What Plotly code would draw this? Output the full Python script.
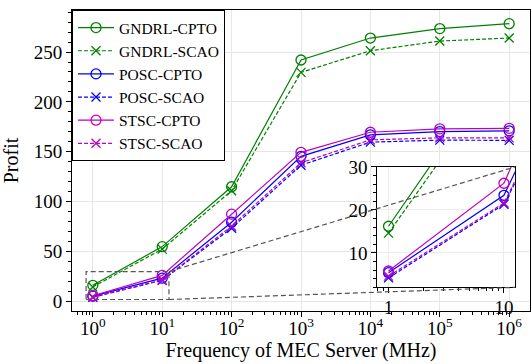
import math
import plotly.graph_objects as go

# ---------------- data ----------------
freq = [1, 10, 100, 1e3, 1e4, 1e5, 1e6]
freq_ticktext = ["10<sup>0</sup>", "10<sup>1</sup>", "10<sup>2</sup>", "10<sup>3</sup>",
                 "10<sup>4</sup>", "10<sup>5</sup>", "10<sup>6</sup>"]

gndrl_cpto = [16.2, 55.0, 115.0, 242.0, 264.0, 273.5, 278.4]
gndrl_scao = [14.6, 52.5, 111.0, 229.6, 251.3, 261.0, 264.0]
posc_cpto = [5.4, 23.4, 79.5, 145.5, 167.0, 170.3, 171.0]
posc_scao = [4.2, 21.3, 73.5, 136.6, 159.7, 161.7, 161.5]
stsc_cpto = [5.8, 26.2, 87.5, 149.5, 169.6, 173.0, 173.5]
stsc_scao = [4.6, 21.6, 75.5, 139.0, 162.0, 164.0, 164.0]

series_names = ["GNDRL-CPTO", "GNDRL-SCAO", "POSC-CPTO", "POSC-SCAO", "STSC-CPTO", "STSC-SCAO"]
series_values = [gndrl_cpto, gndrl_scao, posc_cpto, posc_scao, stsc_cpto, stsc_scao]
series_colors = ["#008000", "#008000", "#0000ff", "#0000ff", "#bf00bf", "#bf00bf"]

inset_y_ticks = [10, 20, 30]
inset_x_ticks = [1, 10]
inset_x_ticktext = ["1", "10"]

# ranges
main_xrange_log = [-0.3, 6.3]
main_yrange = [-9.5, 292.1]
inset_xlim = [0.8, 12.5]
inset_ylim = [2, 30]
# inset box placement expressed in main-axis data coordinates
inset_box_x = [10 ** 4.10, 10 ** 6.086]
inset_box_y = [14.2, 134.9]

FONT = "Times New Roman, Liberation Serif, serif"

fig = go.Figure()

for name, vals, col in zip(series_names, series_values, series_colors):
    dashed = name.endswith("SCAO")
    sym = "x-thin-open" if dashed else "circle-open"
    for axis_pair, show in ((("x", "y"), True), (("x2", "y2"), False)):
        fig.add_trace(go.Scatter(
            x=freq, y=vals, name=name, mode="lines+markers",
            xaxis=axis_pair[0], yaxis=axis_pair[1], showlegend=show,
            line=dict(color=col, width=1.2, dash="4px,2px" if dashed else "solid"),
            marker=dict(symbol=sym, size=9 if dashed else 10, color=col,
                        line=dict(color=col, width=1.3)),
        ))

# inset domain computed from main-axis ranges
def xfrac(v):
    return (math.log10(v) - main_xrange_log[0]) / (main_xrange_log[1] - main_xrange_log[0])

def yfrac(v):
    return (v - main_yrange[0]) / (main_yrange[1] - main_yrange[0])

inset_dom_x = [xfrac(inset_box_x[0]), xfrac(inset_box_x[1])]
inset_dom_y = [yfrac(inset_box_y[0]), yfrac(inset_box_y[1])]

grid_col = "#e6e6e6"

fig.update_layout(
    width=531, height=364,
    margin=dict(l=72, r=0, t=6, b=53),
    paper_bgcolor="white", plot_bgcolor="white",
    font=dict(family=FONT, color="black", size=19),
    showlegend=True,
    legend=dict(x=0, y=1, xanchor="left", yanchor="top",
                bordercolor="black", borderwidth=1, bgcolor="white",
                font=dict(family=FONT, size=15.5, color="black"),
                itemwidth=36, tracegroupgap=0),
    xaxis=dict(
        type="log", range=main_xrange_log,
        tickmode="array", tickvals=freq, ticktext=freq_ticktext,
        ticks="outside", ticklen=5, tickwidth=1, tickcolor="black",
        ticklabelstandoff=-5,
        showline=True, linecolor="black", linewidth=1, mirror=True,
        showgrid=True, gridcolor=grid_col, gridwidth=1, zeroline=False,
        tickfont=dict(family=FONT, size=19),
        minor=dict(ticks="outside", ticklen=3, tickcolor="black", dtick="D1", showgrid=False),
        title=dict(text="Frequency of MEC Server (MHz)", font=dict(family=FONT, size=20), standoff=2),
    ),
    yaxis=dict(
        range=main_yrange, tickmode="linear", tick0=0, dtick=50,
        ticks="outside", ticklen=5, tickwidth=1, tickcolor="black",
        showline=True, linecolor="black", linewidth=1, mirror=True,
        showgrid=True, gridcolor=grid_col, gridwidth=1, zeroline=False,
        tickfont=dict(family=FONT, size=19),
        minor=dict(ticks="outside", ticklen=3, tickcolor="black", dtick=10, tick0=0, showgrid=False),
        title=dict(text="Profit", font=dict(family=FONT, size=20), standoff=9),
    ),
    xaxis2=dict(
        type="log", domain=inset_dom_x, anchor="y2",
        range=[math.log10(inset_xlim[0]), math.log10(inset_xlim[1])],
        tickmode="array", tickvals=inset_x_ticks, ticktext=inset_x_ticktext,
        ticks="outside", ticklen=5, tickcolor="black",
        ticklabelstandoff=-2,
        showline=True, linecolor="black", linewidth=1, mirror=True,
        showgrid=True, gridcolor="#ececec", zeroline=False,
        tickfont=dict(family=FONT, size=19),
        minor=dict(ticks="outside", ticklen=3, tickcolor="black", dtick="D1", showgrid=False),
    ),
    yaxis2=dict(
        domain=inset_dom_y, anchor="x2", range=inset_ylim,
        tickmode="array", tickvals=inset_y_ticks,
        ticks="outside", ticklen=5, tickcolor="black",
        showline=True, linecolor="black", linewidth=1, mirror=True,
        showgrid=True, gridcolor="#ececec", zeroline=False,
        tickfont=dict(family=FONT, size=19),
        minor=dict(ticks="outside", ticklen=3, tickcolor="black", dtick=2, tick0=0, showgrid=False),
    ),
)

mark_style = dict(color="#555555", width=1.2, dash="5px,3px")
fig.add_shape(type="rect", xref="x", yref="y",
              x0=inset_xlim[0], x1=inset_xlim[1], y0=inset_ylim[0], y1=inset_ylim[1],
              line=mark_style, layer="above")
fig.add_shape(type="line", xref="x", yref="y",
              x0=inset_xlim[1], y0=inset_ylim[1], x1=inset_box_x[1], y1=inset_box_y[1],
              line=mark_style, layer="above")
fig.add_shape(type="line", xref="x", yref="y",
              x0=inset_xlim[1], y0=inset_ylim[0], x1=inset_box_x[1], y1=inset_box_y[0],
              line=mark_style, layer="above")

fig.write_html("out.html")
